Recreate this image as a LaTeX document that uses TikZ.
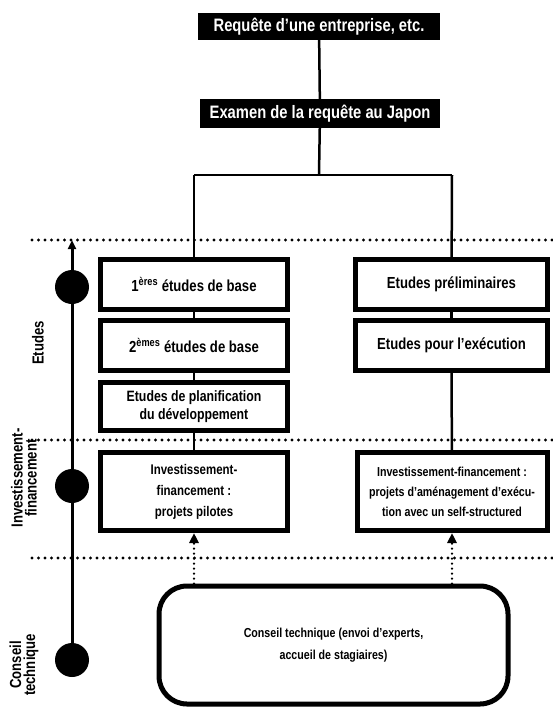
\documentclass[tikz,border=0pt]{standalone}
\usepackage{fontspec}
\setmainfont[FakeStretch=0.82]{Liberation Sans}
\usetikzlibrary{arrows.meta}
\begin{document}
\begin{tikzpicture}[x=1pt,y=-1pt,
  blackbox/.style={fill=black,text=white,inner sep=0pt,
    font=\bfseries\fontsize{18}{20}\selectfont},
  stepbox/.style={draw,line width=5pt,align=center,inner sep=2pt,
    font=\bfseries\fontsize{16}{17}\selectfont},
  smallbox/.style={stepbox,font=\bfseries\fontsize{14}{21}\selectfont},
  link/.style={line width=2.5pt},
  phase/.style={line width=3.2pt,line cap=round,dash pattern=on 0pt off 6.5pt},
  feed/.style={line width=2.5pt,line cap=round,dash pattern=on 0pt off 5pt,
    -{Triangle[width=9pt,length=10pt]}},
  dot/.style={circle,fill=black,minimum size=34pt,inner sep=0pt},
  side/.style={rotate=90,align=center,font=\bfseries\fontsize{16}{14}\selectfont}]
\useasboundingbox (0,0) rectangle (553,710);

% phase separators
\draw[phase] (32,240) -- (553,240);
\draw[phase] (32,440) -- (553,440);
\draw[phase] (32,558) -- (553,558);

% request chain
\node[blackbox,minimum width=242pt,minimum height=27pt] (r1) at (319,26.5)
  {Requête d'une entreprise, etc.};
\node[blackbox,minimum width=240pt,minimum height=29pt] (r2) at (320,113.5)
  {Examen de la requête au Japon};
\coordinate (sp) at (319,175);
\coordinate (sl) at (194,175);
\coordinate (sr) at (452,175);

% study column (left)
\node[stepbox,minimum width=187pt,minimum height=50pt] (a1) at (194,284.5)
  {1\textsuperscript{ères} études de base};
\node[stepbox,minimum width=187pt,minimum height=50pt] (a2) at (194,345.5)
  {2\textsuperscript{èmes} études de base};
\node[stepbox,minimum width=187pt,minimum height=48pt,
  font=\bfseries\fontsize{15}{18}\selectfont] (a3) at (194,406.5)
  {Etudes de planification\\du développement};
\node[smallbox,minimum width=187pt,minimum height=78pt] (ai) at (194,491.5)
  {Investissement-\\financement :\\projets pilotes};

% study column (right)
\node[stepbox,minimum width=192pt,minimum height=50pt] (b1) at (451.5,284.5)
  {Etudes préliminaires};
\node[stepbox,minimum width=192pt,minimum height=50pt] (b2) at (451.5,345.5)
  {Etudes pour l'exécution};
\node[smallbox,minimum width=190pt,minimum height=78pt,
  font=\bfseries\fontsize{13}{20}\selectfont] (bi) at (452,491.5)
  {Investissement-financement :\\projets d'aménagement d'exécu-\\tion avec un self-structured};

% technical advice
\node[draw,line width=5pt,rounded corners=28pt,align=center,
  minimum width=349pt,minimum height=118pt,
  font=\bfseries\fontsize{13}{22}\selectfont] (c) at (333.5,645)
  {Conseil technique (envoi d'experts,\\accueil de stagiaires)};

% connectors
\draw[link] (r1) -- (r2);
\draw[link] (r2) -- (sp);
\draw[link] (sl) -- (sr);
\draw[link] (sl) -- (a1);
\draw[link] (a1) -- (a2);
\draw[link] (a2) -- (a3);
\draw[link] (a3) -- (ai);
\draw[link] (sr) -- (b1);
\draw[link] (b1) -- (b2);
\draw[link] (b2) -- (bi);
\draw[feed] (ai |- c.north) -- (ai.south);
\draw[feed] (bi |- c.north) -- (bi.south);

% time axis with phase markers
\node[dot] (d1) at (72,287) {};
\node[dot] (d2) at (72,486) {};
\node[dot] (d3) at (72,660) {};
\coordinate (top) at (72,240);
\draw[line width=3pt,-{Triangle[width=8pt,length=9pt]}] (d3.center) -- (top);

\node[side] (l1) at (38,343) {Etudes};
\node[side] (l2) at (24,478) {Investissement-\\financement};
\node[side] (l3) at (24,665) {Conseil\\technique};
\end{tikzpicture}
\end{document}
